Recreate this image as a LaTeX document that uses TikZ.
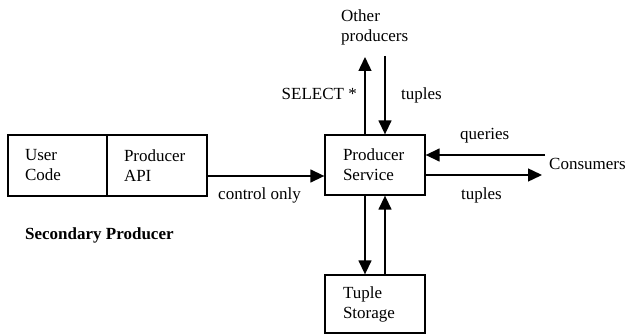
\documentclass[tikz,border=0pt]{standalone}
\usepackage{fontspec}
\setmainfont{Liberation Serif}
\usetikzlibrary{arrows.meta}
\begin{document}
\begin{tikzpicture}[x=1pt,y=-1pt,
  txt/.style={font=\fontsize{17}{20}\selectfont},
  box/.style={txt,draw,line width=1.3pt,minimum width=100pt,minimum height=60pt,inner xsep=18pt,inner ysep=0pt,text width=64pt,align=left},
  lbl/.style={txt,inner sep=0pt,anchor=base west},
  arr/.style={line width=1.4pt,-{Triangle[length=14pt,width=13pt]}}]
\useasboundingbox (0,0) rectangle (627,334);
% boxes
\node[box,minimum width=99pt,text width=65pt,inner xsep=17pt,minimum height=61pt] (uc) at (57.5,165.5) {User\\Code};
\node[box,text width=66pt,inner xsep=17pt,minimum height=61pt] (api) at (157,165.5) {Producer\\API};
\node[box] (svc) at (375,165) {Producer\\Service};
\node[box,minimum height=58pt] (ts) at (375,304) {Tuple\\Storage};
% labels
\node[lbl] (ctl) at (218,200) {control only};
\node[lbl] (sp) at (25,240) {\bfseries Secondary Producer};
\node[txt,inner sep=0pt,anchor=north west,align=left] (op) at (341,9.5) {Other\\producers};
\node[lbl,anchor=base east] (sel) at (357,100) {SELECT *};
\node[lbl] (tup1) at (401,100) {tuples};
\node[lbl] (qry) at (460,140) {queries};
\node[lbl] (cons) at (549,170) {Consumers};
\node[lbl] (tup2) at (461,200) {tuples};
% coordinates
\coordinate (ctlA) at ([yshift=-10.5pt]api.east);
\coordinate (opL) at (365,57);
\coordinate (opR) at (385,56);
\coordinate (cq) at (545,155);
\coordinate (ct) at (542,175);
% connectors
\draw[arr] (ctlA) -- (ctlA -| svc.west);
\draw[arr] (svc.north -| opL) -- (opL);
\draw[arr] (opR) -- (svc.north -| opR);
\draw[arr] (cq) -- (cq -| svc.east);
\draw[arr] (svc.east |- ct) -- (ct);
\draw[arr] (svc.south -| opL) -- (ts.north -| opL);
\draw[arr] (ts.north -| opR) -- (svc.south -| opR);
\end{tikzpicture}
\end{document}
